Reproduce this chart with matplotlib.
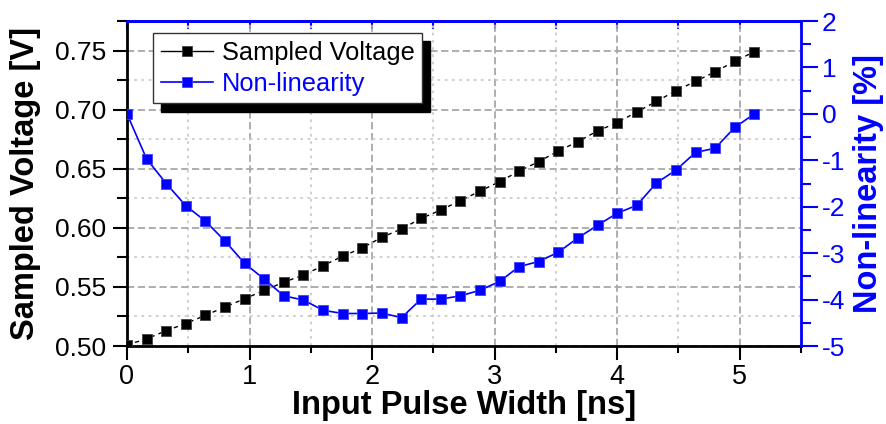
import matplotlib
matplotlib.use("Agg")
import matplotlib.pyplot as plt
from matplotlib.lines import Line2D
from matplotlib.ticker import MultipleLocator, FormatStrFormatter

plt.rcParams['font.family'] = ['Liberation Sans', 'DejaVu Sans']
plt.rcParams['axes.unicode_minus'] = False

pulse_width = [0.00, 0.16, 0.32, 0.48, 0.64, 0.80, 0.96, 1.12, 1.28, 1.44, 1.60,
               1.76, 1.92, 2.08, 2.24, 2.40, 2.56, 2.72, 2.88, 3.04, 3.20, 3.36,
               3.52, 3.68, 3.84, 4.00, 4.16, 4.32, 4.48, 4.64, 4.80, 4.96, 5.12]
sampled_voltage = [0.501, 0.506, 0.513, 0.519, 0.526, 0.533, 0.540, 0.547, 0.554,
                   0.560, 0.568, 0.576, 0.583, 0.592, 0.599, 0.608, 0.615, 0.623,
                   0.631, 0.639, 0.648, 0.656, 0.665, 0.673, 0.682, 0.689, 0.698,
                   0.707, 0.716, 0.724, 0.732, 0.741, 0.749]
non_linearity = [0.00, -0.97, -1.50, -1.98, -2.31, -2.74, -3.22, -3.56, -3.92,
                 -4.01, -4.23, -4.30, -4.30, -4.29, -4.39, -3.99, -3.99, -3.92,
                 -3.80, -3.61, -3.29, -3.18, -2.98, -2.67, -2.40, -2.14, -1.97,
                 -1.49, -1.21, -0.83, -0.74, -0.29, 0.00]
series_labels = ["Sampled Voltage", "Non-linearity"]
x_label = "Input Pulse Width [ns]"
y_left_label = "Sampled Voltage [V]"
y_right_label = "Non-linearity [%]"

BLUE = '#0000ff'
fig = plt.figure(figsize=(8.86, 4.24), dpi=100)
ax = fig.add_axes([127/886, 1-346/424, (801-127)/886, (346-21)/424])
ax2 = ax.twinx()

# grid
ax.set_axisbelow(True)
ax.grid(which='major', axis='both', color='#a8a8a8', linestyle=(0, (4, 2)), linewidth=1.3)
ax.grid(which='minor', axis='both', color='#cccccc', linestyle=(0, (1.5, 2.5)), linewidth=1.3)

ax.plot(pulse_width, sampled_voltage, color='black', linestyle=(0, (3, 3)), linewidth=1.0,
        marker='s', markersize=7.3, markeredgecolor='#404040', markeredgewidth=0.6, zorder=3)
ax2.plot(pulse_width, non_linearity, color=BLUE, linestyle='-', linewidth=1.2,
         marker='s', markersize=7.3, markeredgecolor='#4040ff', markeredgewidth=0.6, zorder=3)

ax.set_xlim(0, 5.5)
ax.set_ylim(0.5, 0.775)
ax2.set_ylim(-5, 2)

ax.xaxis.set_major_locator(MultipleLocator(1))
ax.xaxis.set_minor_locator(MultipleLocator(0.5))
ax.yaxis.set_major_locator(MultipleLocator(0.05))
ax.yaxis.set_minor_locator(MultipleLocator(0.025))
ax.yaxis.set_major_formatter(FormatStrFormatter('%.2f'))
ax2.yaxis.set_major_locator(MultipleLocator(1))
ax2.yaxis.set_minor_locator(MultipleLocator(0.5))

ax.tick_params(axis='x', which='major', direction='out', length=10, width=1.5,
               labelsize=19.5, pad=3)
ax.tick_params(axis='x', which='minor', direction='out', length=5, width=1.5)
ax.tick_params(axis='y', which='major', direction='out', length=10, width=1.5,
               labelsize=19, pad=5)
ax.tick_params(axis='y', which='minor', direction='out', length=7, width=1.5)
ax2.tick_params(axis='y', which='major', direction='out', length=12, width=1.5,
                labelsize=19, pad=3, colors=BLUE)
ax2.tick_params(axis='y', which='minor', direction='out', length=7, width=1.5, colors=BLUE)

# top ticks
sec = ax.secondary_xaxis('top')
sec.xaxis.set_major_locator(MultipleLocator(0.5))
sec.tick_params(axis='x', which='major', direction='in', length=6, width=1.5,
                colors=BLUE, labeltop=False)
sec.spines['top'].set_color(BLUE)
sec.spines['top'].set_linewidth(2)

for s in ['left', 'bottom']:
    ax.spines[s].set_linewidth(2)
    ax.spines[s].set_color('black')
ax.spines['top'].set_color(BLUE)
ax.spines['top'].set_linewidth(2)
ax.spines['right'].set_visible(False)
ax2.spines['right'].set_color(BLUE)
ax2.spines['right'].set_linewidth(2)
ax2.spines['left'].set_visible(False)
ax2.spines['top'].set_visible(False)
ax2.spines['bottom'].set_visible(False)

ax.set_xlabel(x_label, fontsize=23.5, fontweight='bold')
ax.xaxis.set_label_coords(0.5, -0.136)
ax.set_ylabel(y_left_label, fontsize=23.5, fontweight='bold')
ax.yaxis.set_label_coords(-0.128, 0.5)
ax2.set_ylabel(y_right_label, fontsize=23.5, fontweight='bold', color=BLUE)
ax2.yaxis.set_label_coords(1.077, 0.5)

handles = [Line2D([], [], color='black', linestyle='-', linewidth=1.0, marker='s',
                  markersize=7.3, markeredgecolor='#404040', markeredgewidth=0.6),
           Line2D([], [], color=BLUE, linestyle='-', linewidth=1.2, marker='s',
                  markersize=7.3, markeredgecolor='#4040ff', markeredgewidth=0.6)]
leg = ax2.legend(handles, series_labels, loc='upper left',
                 bbox_to_anchor=((153-127)/674, (346-33)/325), borderaxespad=0,
                 fontsize=18.3, frameon=True, fancybox=False, borderpad=0.3,
                 handlelength=2.05, handletextpad=0.35, labelspacing=0.28,
                 shadow={'ox': 6, 'oy': -6, 'color': 'black', 'alpha': 1})
leg.get_frame().set_edgecolor('#333333')
leg.get_frame().set_linewidth(1.0)
leg.get_frame().set_alpha(1)
leg.get_texts()[0].set_color('black')
leg.get_texts()[1].set_color(BLUE)
leg.set_zorder(10)

fig.savefig('out.png', dpi=100)
